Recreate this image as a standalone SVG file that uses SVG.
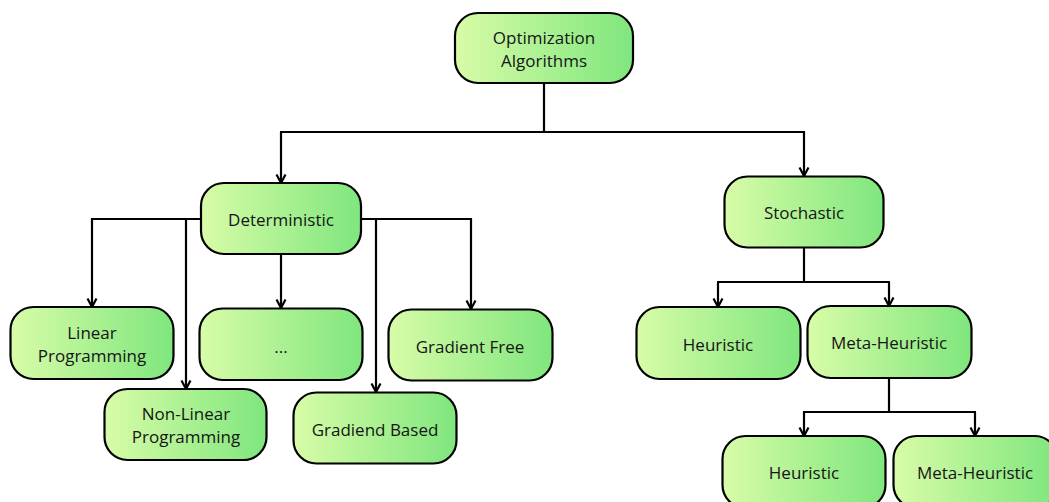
<svg xmlns="http://www.w3.org/2000/svg" width="1049" height="502" viewBox="0 0 1049 502">
  <defs>
    <linearGradient id="nodeFill" x1="0" y1="0" x2="1" y2="0">
      <stop offset="0" stop-color="#d8fca8"/>
      <stop offset="1" stop-color="#7fe67d"/>
    </linearGradient>
    <marker id="arrow" viewBox="0 0 12 12" refX="11" refY="6" markerWidth="12" markerHeight="12" markerUnits="userSpaceOnUse" orient="auto">
      <path d="M2.5,1.5 L11,6 L2.5,10.5" fill="none" stroke="#000" stroke-width="2.2" stroke-linejoin="miter"/>
    </marker>
    <style>
      .node rect { fill: url(#nodeFill); stroke: #000; stroke-width: 2.2; }
      .node text { font-family: "Open Sans", "Noto Sans", "Liberation Sans", sans-serif; font-size: 17px; fill: #151515; text-anchor: middle; dominant-baseline: central; }
      .edge { fill: none; stroke: #000; stroke-width: 2.2; }
      .edge.arrow { marker-end: url(#arrow); }
    </style>
  </defs>

  <!-- connectors -->
  <g id="connectors">
    <!-- root to first level -->
    <path class="edge" d="M544,83 V132"/>
    <path class="edge" d="M280,132 H805"/>
    <path class="edge arrow" d="M281,132 V183"/>
    <path class="edge arrow" d="M804,132 V176"/>
    <!-- deterministic branch -->
    <path class="edge arrow" d="M201,219 H92 V307"/>
    <path class="edge arrow" d="M186,219 V389"/>
    <path class="edge arrow" d="M281,254 V308"/>
    <path class="edge arrow" d="M361,219 H471 V309"/>
    <path class="edge arrow" d="M376,219 V392"/>
    <!-- stochastic branch -->
    <path class="edge" d="M804,248 V282"/>
    <path class="edge" d="M717,282 H890"/>
    <path class="edge arrow" d="M718,282 V307"/>
    <path class="edge arrow" d="M889,282 V306"/>
    <!-- meta-heuristic branch -->
    <path class="edge" d="M889,378 V412"/>
    <path class="edge" d="M803,412 H976"/>
    <path class="edge arrow" d="M804,412 V436"/>
    <path class="edge arrow" d="M975,412 V436"/>
  </g>

  <g id="optimization-algorithms" class="node">
    <rect x="455" y="13" width="178" height="70" rx="23"/>
    <text x="544" y="37.5">Optimization</text>
    <text x="544" y="60.5">Algorithms</text>
  </g>

  <g id="deterministic" class="node">
    <rect x="201" y="183" width="160" height="71" rx="23"/>
    <text x="281" y="219">Deterministic</text>
  </g>

  <g id="stochastic" class="node">
    <rect x="724.5" y="176.5" width="159" height="71" rx="23"/>
    <text x="804" y="212.5">Stochastic</text>
  </g>

  <g id="linear-programming" class="node">
    <rect x="10.5" y="307" width="163" height="72" rx="23"/>
    <text x="92" y="332.5">Linear</text>
    <text x="92" y="355.5">Programming</text>
  </g>

  <g id="non-linear-programming" class="node">
    <rect x="104.5" y="389" width="162" height="71" rx="23"/>
    <text x="186" y="413">Non-Linear</text>
    <text x="186" y="436.5">Programming</text>
  </g>

  <g id="other-deterministic" class="node">
    <rect x="199.5" y="308.5" width="163" height="71.5" rx="23"/>
    <text x="281" y="346">...</text>
  </g>

  <g id="gradiend-based" class="node">
    <rect x="293.5" y="392.5" width="163" height="71" rx="23"/>
    <text x="375" y="429">Gradiend Based</text>
  </g>

  <g id="gradient-free" class="node">
    <rect x="388.5" y="309.5" width="164" height="71" rx="23"/>
    <text x="470" y="346">Gradient Free</text>
  </g>

  <g id="heuristic" class="node">
    <rect x="636.5" y="307" width="164" height="72" rx="23"/>
    <text x="718" y="344">Heuristic</text>
  </g>

  <g id="meta-heuristic" class="node">
    <rect x="807.5" y="306" width="164" height="72" rx="23"/>
    <text x="889" y="342.5">Meta-Heuristic</text>
  </g>

  <g id="heuristic-2" class="node">
    <rect x="722.5" y="436" width="163" height="72" rx="23"/>
    <text x="804" y="472">Heuristic</text>
  </g>

  <g id="meta-heuristic-2" class="node">
    <rect x="893.5" y="436" width="164" height="72" rx="23"/>
    <text x="975" y="472">Meta-Heuristic</text>
  </g>
</svg>
